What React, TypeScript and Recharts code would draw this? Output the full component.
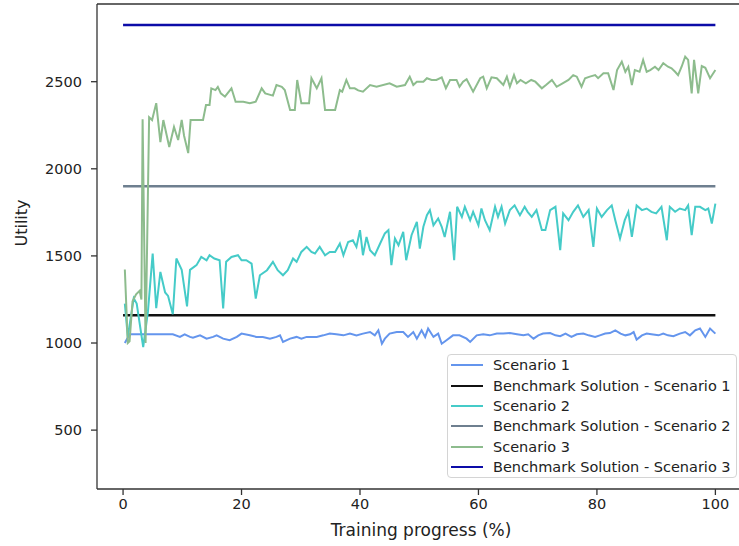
import { Line, LineChart, ReferenceLine, XAxis, YAxis } from "recharts";

const xTicks = [0, 20, 40, 60, 80, 100];
const yTicks = [500, 1000, 1500, 2000, 2500];
const xDomain = [-4.4, 105];
const yDomain = [162, 2946];

// Scenario 1
const s1X = [0.3, 1.1, 4, 8.4, 9.6, 10.4, 11.3, 11.8, 13, 14.1, 15.2, 15.8, 16.9, 18, 19.2, 20, 21.4, 22.5, 23.6, 24.8, 25.9, 26.5, 27, 28.2, 29.3, 30.1, 31, 32.1, 32.7, 33.8, 34.9, 36, 37.2, 38.3, 39.4, 40.5, 41.7, 42.5, 43.1, 43.7, 44.2, 45, 46.2, 47.3, 48.1, 49, 49.6, 50.4, 51, 51.5, 52.4, 53.2, 53.8, 54.6, 55.7, 56.8, 58, 58.6, 59.7, 60.8, 61.9, 63.1, 64.2, 65.3, 66.5, 67.6, 68.4, 69.3, 70.1, 70.9, 72.1, 73, 73.8, 74.7, 75.7, 76.6, 77.7, 78.6, 79.7, 80.5, 81.4, 82.2, 83.1, 84, 84.8, 85.6, 86.2, 86.7, 87.6, 88.4, 89.2, 90.4, 91.2, 92, 92.9, 94, 94.9, 95.7, 96.6, 97.4, 98.3, 99.1, 100];
const s1Y = [1000, 1050, 1050, 1050, 1035, 1050, 1035, 1030, 1044, 1025, 1035, 1044, 1025, 1016, 1035, 1054, 1044, 1035, 1035, 1025, 1035, 1044, 1006, 1025, 1035, 1025, 1035, 1035, 1035, 1044, 1054, 1050, 1044, 1054, 1044, 1054, 1063, 1044, 1073, 996, 1025, 1054, 1063, 1063, 1035, 1063, 1025, 1073, 1035, 1083, 1035, 1054, 996, 1016, 1044, 1044, 1025, 1006, 1044, 1050, 1044, 1054, 1054, 1057, 1050, 1044, 1050, 1025, 1044, 1054, 1057, 1044, 1039, 1054, 1035, 1050, 1054, 1044, 1035, 1044, 1054, 1057, 1073, 1054, 1044, 1050, 1063, 1020, 1044, 1054, 1050, 1044, 1054, 1044, 1039, 1054, 1063, 1044, 1073, 1083, 1035, 1083, 1054];

// Scenario 2
const s2X = [0.3, 0.8, 1.8, 2.3, 3.4, 4.2, 5, 5.6, 6.3, 7.1, 7.6, 8.4, 9, 9.9, 10.8, 11.3, 12.4, 13.2, 14.1, 14.6, 15.4, 16.3, 16.9, 17.4, 18.3, 19.4, 20, 20.8, 21.7, 22.4, 23.1, 24.3, 25.3, 26.1, 27, 27.8, 28.7, 29.3, 30.1, 31, 31.8, 32.4, 33.2, 34.1, 34.9, 35.8, 36.6, 37.2, 38, 38.8, 39.4, 40, 40.5, 41.1, 41.7, 42.5, 43.4, 44.2, 44.8, 45.3, 45.9, 46.5, 47.3, 47.8, 48.7, 49.6, 50.1, 50.7, 51.3, 51.8, 52.4, 53.2, 53.8, 54.3, 55.2, 55.9, 56.4, 57.2, 57.7, 58.6, 59.1, 60, 60.5, 61.1, 61.9, 62.8, 63.3, 63.9, 64.5, 65.3, 66.1, 67, 67.8, 68.3, 69, 69.8, 70.7, 71.3, 72.1, 73, 73.8, 74.3, 75.2, 76, 76.8, 77.7, 78.6, 79.4, 80, 80.8, 81.7, 82.5, 83.1, 83.9, 84.7, 85.3, 85.9, 86.7, 87.6, 88.4, 89.2, 90, 90.9, 91.8, 92.3, 93.2, 94, 94.9, 95.4, 96, 96.6, 97.4, 98.3, 98.8, 99.4, 100];
const s2Y = [1226, 1035, 1257, 1226, 977, 1180, 1514, 1200, 1408, 1290, 1270, 1165, 1485, 1420, 1210, 1420, 1447, 1494, 1475, 1504, 1485, 1475, 1198, 1466, 1494, 1504, 1475, 1475, 1456, 1255, 1389, 1418, 1466, 1418, 1389, 1418, 1485, 1466, 1523, 1552, 1523, 1514, 1552, 1504, 1523, 1523, 1571, 1504, 1580, 1590, 1552, 1648, 1504, 1609, 1533, 1504, 1571, 1629, 1648, 1447, 1600, 1561, 1638, 1475, 1619, 1695, 1542, 1667, 1734, 1763, 1676, 1715, 1667, 1609, 1753, 1475, 1782, 1724, 1782, 1705, 1753, 1676, 1772, 1705, 1648, 1782, 1724, 1782, 1686, 1763, 1790, 1734, 1782, 1753, 1724, 1763, 1648, 1648, 1763, 1782, 1533, 1744, 1705, 1753, 1790, 1724, 1763, 1552, 1772, 1724, 1763, 1790, 1705, 1600, 1705, 1753, 1609, 1790, 1763, 1772, 1753, 1744, 1782, 1590, 1782, 1753, 1772, 1763, 1790, 1619, 1782, 1782, 1763, 1772, 1686, 1800];

// Scenario 3
const s3X = [0.3, 0.8, 1.1, 1.6, 2.2, 2.8, 3.1, 3.3, 3.8, 4.4, 4.9, 5.6, 6.3, 6.8, 7.8, 8.6, 9.3, 9.9, 10.3, 11, 11.4, 13.5, 14, 14.6, 14.9, 15.6, 16, 16.5, 17.2, 18.3, 19, 20.3, 21.4, 22.4, 23.4, 24, 25.3, 25.9, 26.8, 27.3, 28.2, 29, 29.4, 30.1, 31.4, 31.8, 32.7, 33.5, 34.1, 35.8, 36.6, 37, 37.7, 38.3, 39.1, 39.7, 40.5, 41.7, 42.8, 45, 46.2, 47.6, 48.4, 49, 49.6, 50.7, 51.3, 52.1, 52.9, 53.8, 54.5, 55.2, 56.3, 56.8, 57.4, 58, 59.1, 60.3, 60.8, 61.4, 62.2, 63.1, 64.2, 64.8, 65.3, 66, 66.5, 67.1, 68, 68.9, 69.6, 70.7, 71.4, 72.4, 73.2, 74.2, 75.2, 76, 76.6, 77.4, 78, 78.8, 79.7, 80.2, 81.1, 81.9, 82.8, 83.4, 84.2, 84.8, 85.3, 85.9, 86.4, 87.2, 87.8, 88.4, 89, 89.8, 90.4, 91.2, 92, 92.6, 93.2, 93.7, 94.3, 94.9, 95.4, 96, 96.4, 97.1, 97.7, 98.3, 99.1, 100];
const s3Y = [1422, 1000, 1010, 1240, 1280, 1300, 1250, 2285, 1000, 2296, 2280, 2377, 2153, 2280, 2125, 2240, 2165, 2280, 2190, 2090, 2280, 2280, 2366, 2366, 2462, 2452, 2470, 2433, 2414, 2462, 2385, 2385, 2376, 2385, 2462, 2433, 2420, 2481, 2471, 2452, 2337, 2337, 2510, 2376, 2376, 2520, 2462, 2520, 2337, 2337, 2452, 2443, 2510, 2462, 2462, 2450, 2443, 2481, 2471, 2491, 2471, 2481, 2529, 2481, 2500, 2500, 2520, 2510, 2510, 2525, 2462, 2510, 2510, 2471, 2500, 2514, 2443, 2520, 2529, 2462, 2525, 2520, 2481, 2529, 2471, 2538, 2491, 2510, 2491, 2510, 2500, 2462, 2481, 2510, 2471, 2491, 2510, 2538, 2529, 2471, 2520, 2529, 2538, 2520, 2548, 2548, 2452, 2567, 2615, 2557, 2586, 2481, 2567, 2557, 2625, 2557, 2567, 2586, 2567, 2606, 2586, 2577, 2557, 2538, 2586, 2644, 2625, 2433, 2625, 2433, 2590, 2580, 2520, 2567];

// Benchmark solutions
const benchX = [0, 100];
const bench1Y = [1160, 1160];
const bench2Y = [1900, 1900];
const bench3Y = [2826, 2826];

const toPoints = (xs: number[], ys: number[]) => xs.map((x, i) => ({ x, y: ys[i] }));

const series = [
  { name: "Scenario 1", color: "#6495ED", width: 2, points: toPoints(s1X, s1Y) },
  { name: "Benchmark Solution - Scenario 1", color: "#111111", width: 2.5, points: toPoints(benchX, bench1Y) },
  { name: "Scenario 2", color: "#45CBC8", width: 2, points: toPoints(s2X, s2Y) },
  { name: "Benchmark Solution - Scenario 2", color: "#6E7F8F", width: 2.5, points: toPoints(benchX, bench2Y) },
  { name: "Scenario 3", color: "#8DBC8D", width: 2, points: toPoints(s3X, s3Y) },
  { name: "Benchmark Solution - Scenario 3", color: "#0C0CA8", width: 2.5, points: toPoints(benchX, bench3Y) },
];

const font = "'DejaVu Sans', sans-serif";
const axisColor = "#333";

export default function App() {
  return (
    <div style={{ position: "fixed", left: 0, top: 0, width: 739, height: 546, overflow: "hidden", background: "#fff", fontFamily: font }}>
      <LineChart width={760} height={546} margin={{ top: 4, right: 15, bottom: 0, left: 0 }}>
        <XAxis
          type="number"
          dataKey="x"
          domain={xDomain}
          ticks={xTicks}
          allowDataOverflow
          height={57}
          tickSize={6}
          tickMargin={4}
          stroke={axisColor}
          strokeWidth={1.3}
          tick={{ fill: "#222", fontSize: 14.5, fontFamily: font }}
          label={{ value: "Training progress (%)", position: "insideBottom", offset: 10, fill: "#222", fontSize: 17, fontFamily: font }}
        />
        <YAxis
          type="number"
          domain={yDomain}
          ticks={yTicks}
          allowDataOverflow
          width={97}
          tickSize={6}
          tickMargin={9}
          stroke={axisColor}
          strokeWidth={1.3}
          tick={{ fill: "#222", fontSize: 14.5, fontFamily: font }}
          label={{ value: "Utility", angle: -90, position: "insideLeft", offset: 21, fill: "#222", fontSize: 16, fontFamily: font }}
        />
        <ReferenceLine y={yDomain[1]} stroke={axisColor} strokeWidth={1.3} />
        {series.map((s) => (
          <Line
            key={s.name}
            data={s.points}
            dataKey="y"
            name={s.name}
            type="linear"
            stroke={s.color}
            strokeWidth={s.width}
            dot={false}
            activeDot={false}
            isAnimationActive={false}
          />
        ))}
      </LineChart>
      <div
        style={{
          position: "absolute",
          left: 447,
          top: 354,
          width: 290,
          height: 124,
          boxSizing: "border-box",
          border: "1px solid #d4d4d4",
          borderRadius: 4,
          background: "rgba(255,255,255,0.85)",
          padding: "0 0 0 3px",
        }}
      >
        {series.map((s) => (
          <div key={s.name} style={{ display: "flex", alignItems: "center", height: 20.4, fontSize: 14.5, color: "#222", whiteSpace: "nowrap" }}>
            <span style={{ display: "inline-block", width: 32, height: 0, borderTop: `2px solid ${s.color}`, marginRight: 10 }} />
            {s.name}
          </div>
        ))}
      </div>
    </div>
  );
}
